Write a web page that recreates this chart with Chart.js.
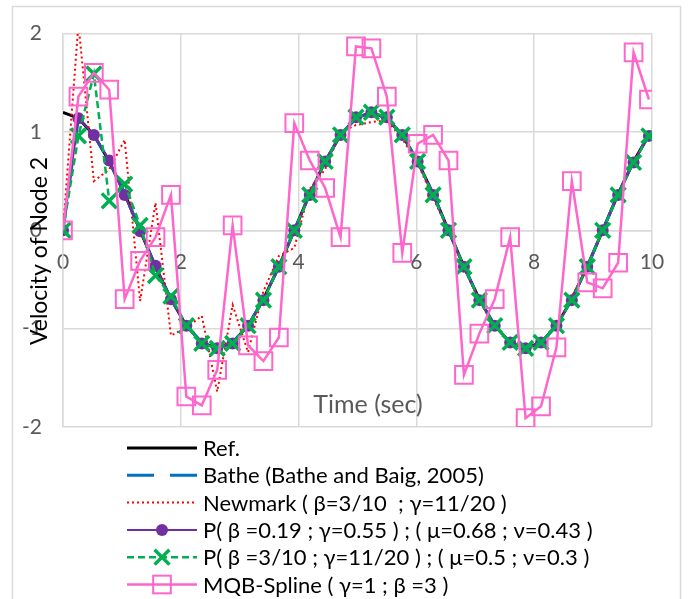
<!DOCTYPE html>
<html>
<head>
<meta charset="utf-8">
<script src="https://cdn.jsdelivr.net/npm/chart.js@4.4.1/dist/chart.umd.min.js"></script>
<style>
    html, body { margin: 0; padding: 0; background: #fff; }
    #wrap { width: 688px; height: 599px; }
</style>
</head>
<body>
<div id="wrap"><canvas id="velChart" width="688" height="599"></canvas></div>
<script>
// time steps (sec)
const times = [0, 0.262, 0.524, 0.785, 1.047, 1.309, 1.571, 1.833, 2.094, 2.356,
    2.618, 2.880, 3.142, 3.403, 3.665, 3.927, 4.189, 4.451, 4.712, 4.974,
    5.236, 5.498, 5.760, 6.021, 6.283, 6.545, 6.807, 7.069, 7.330, 7.592,
    7.854, 8.116, 8.378, 8.639, 8.901, 9.163, 9.425, 9.687, 9.948];

const refVals = [1.2, 1.14, 0.97, 0.70, 0.37, 0, -0.37, -0.70, -0.97, -1.14,
    -1.2, -1.14, -0.97, -0.70, -0.37, 0, 0.37, 0.70, 0.97, 1.14,
    1.2, 1.14, 0.97, 0.70, 0.37, 0, -0.37, -0.70, -0.97, -1.14,
    -1.2, -1.14, -0.97, -0.70, -0.37, 0, 0.37, 0.70, 0.97];

const batheVals = [0, 1.14, 0.97, 0.70, 0.37, 0, -0.37, -0.70, -0.97, -1.14,
    -1.2, -1.14, -0.97, -0.70, -0.37, 0, 0.37, 0.70, 0.97, 1.14,
    1.2, 1.14, 0.97, 0.70, 0.37, 0, -0.37, -0.70, -0.97, -1.14,
    -1.2, -1.14, -0.97, -0.70, -0.37, 0, 0.37, 0.70, 0.97];

const newmarkVals = [0, 2.1, 0.5, 0.62, 0.92, -0.72, 0.28, -1.07, -0.99, -0.87,
    -1.64, -0.76, -1.24, -0.62, -0.26, -0.18, 0.42, 0.62, 1.0, 1.07,
    1.1, 1.12, 0.93, 0.68, 0.33, 0.0, -0.38, -0.72, -0.98, -1.14,
    -1.2, -1.14, -0.97, -0.68, -0.36, 0.0, 0.37, 0.70, 0.97];

const p1Vals = [0, 1.14, 0.97, 0.71, 0.36, -0.01, -0.36, -0.70, -0.97, -1.15,
    -1.2, -1.15, -0.97, -0.71, -0.37, 0, 0.36, 0.70, 0.97, 1.15,
    1.2, 1.15, 0.97, 0.70, 0.36, 0, -0.37, -0.71, -0.97, -1.14,
    -1.2, -1.14, -0.97, -0.71, -0.37, 0, 0.36, 0.69, 0.96];

const p2Vals = [0, 0.96, 1.59, 0.30, 0.47, 0.05, -0.46, -0.67, -0.97, -1.15,
    -1.2, -1.15, -0.97, -0.71, -0.37, 0, 0.36, 0.70, 0.97, 1.15,
    1.2, 1.15, 0.97, 0.70, 0.36, 0, -0.37, -0.71, -0.97, -1.14,
    -1.2, -1.14, -0.97, -0.71, -0.37, 0, 0.36, 0.69, 0.96];

const mqbVals = [0, 1.36, 1.6, 1.43, -0.70, -0.31, -0.07, 0.36, -1.69, -1.78,
    -1.42, 0.05, -1.17, -1.33, -1.09, 1.09, 0.71, 0.43, -0.07, 1.87,
    1.85, 1.36, -0.23, 0.88, 0.97, 0.71, -1.47, -1.05, -0.70, -0.07,
    -1.91, -1.79, -1.19, 0.5, -0.53, -0.59, -0.33, 1.81, 1.33];

const xTicks = [0, 2, 4, 6, 8, 10];
const yTicks = [-2, -1, 0, 1, 2];

const FONT = 'Lato, "Open Sans", sans-serif';
const GRID = '#d9d9d9';

function pts(vals) {
    return vals.map((v, i) => ({ x: times[i], y: v }));
}

const datasets = [
    {
        label: 'Ref.',
        data: pts(refVals),
        borderColor: '#000000',
        borderWidth: 3,
        pointRadius: 0,
        order: 6
    },
    {
        label: 'Bathe (Bathe and Baig, 2005)',
        data: pts(batheVals),
        borderColor: '#0070C0',
        borderWidth: 3,
        borderDash: [27, 16],
        pointRadius: 0,
        order: 5
    },
    {
        label: 'Newmark ( \u03b2=3/10  ; \u03b3=11/20 )',
        data: pts(newmarkVals),
        borderColor: '#FF0000',
        borderWidth: 2,
        borderDash: [2, 3],
        pointRadius: 0,
        order: 4
    },
    {
        label: 'P( \u03b2 =0.19 ; \u03b3=0.55 ) ; ( \u03bc=0.68 ; \u03bd=0.43 )',
        data: pts(p1Vals),
        borderColor: '#7030A0',
        backgroundColor: '#7030A0',
        borderWidth: 2,
        pointStyle: 'circle',
        pointRadius: 6,
        pointBorderWidth: 0,
        order: 3
    },
    {
        label: 'P( \u03b2 =3/10 ; \u03b3=11/20 ) ; ( \u03bc=0.5 ; \u03bd=0.3 )',
        data: pts(p2Vals),
        borderColor: '#00B050',
        backgroundColor: '#00B050',
        borderWidth: 2.5,
        borderDash: [7, 4],
        pointStyle: 'crossRot',
        pointRadius: 10.5,
        pointBorderWidth: 3.5,
        order: 2
    },
    {
        label: 'MQB-Spline ( \u03b3=1 ; \u03b2 =3 )',
        data: pts(mqbVals),
        borderColor: '#FF66CC',
        backgroundColor: 'rgba(255,255,255,0)',
        borderWidth: 2.5,
        pointStyle: 'rect',
        pointRadius: 12.5,
        pointBorderWidth: 2,
        order: 1
    }
];

// frame, axis titles and the one-per-row legend
const decorPlugin = {
    id: 'decor',
    beforeDraw(chart) {
        const c = chart.ctx;
        c.save();
        c.fillStyle = '#fff';
        c.fillRect(0, 0, chart.width, chart.height);
        c.strokeStyle = GRID;
        c.lineWidth = 1.5;
        c.strokeRect(12.5, 6.5, 668, 620);
        c.restore();
    },
    afterDraw(chart) {
        const c = chart.ctx;
        c.save();
        c.textBaseline = 'middle';

        c.font = '25px ' + FONT;
        c.fillStyle = '#595959';
        c.textAlign = 'center';
        c.fillText('Time (sec)', 368, 405);

        c.font = '23px ' + FONT;
        c.fillStyle = '#000';
        c.translate(40, 251);
        c.rotate(-Math.PI / 2);
        c.fillText('Velocity of Node 2', 0, 0);
        c.setTransform(1, 0, 0, 1, 0, 0);

        c.font = '22px ' + FONT;
        chart.data.datasets.forEach((ds, i) => {
            const y = 448 + i * 27.3;
            c.save();
            c.strokeStyle = ds.borderColor;
            c.lineWidth = ds.borderWidth;
            c.setLineDash(ds.borderDash || []);
            c.beginPath();
            c.moveTo(127, y);
            c.lineTo(197, y);
            c.stroke();
            c.setLineDash([]);
            const mx = 162;
            if (ds.pointStyle === 'circle' && ds.pointRadius) {
                c.fillStyle = ds.backgroundColor;
                c.beginPath();
                c.arc(mx, y, ds.pointRadius, 0, Math.PI * 2);
                c.fill();
            } else if (ds.pointStyle === 'crossRot') {
                const r = ds.pointRadius * Math.SQRT1_2;
                c.lineWidth = ds.pointBorderWidth;
                c.beginPath();
                c.moveTo(mx - r, y - r); c.lineTo(mx + r, y + r);
                c.moveTo(mx - r, y + r); c.lineTo(mx + r, y - r);
                c.stroke();
            } else if (ds.pointStyle === 'rect') {
                const s = ds.pointRadius * Math.SQRT1_2;
                c.lineWidth = ds.pointBorderWidth;
                c.strokeRect(mx - s, y - s, s * 2, s * 2);
            }
            c.restore();
            c.fillStyle = '#000';
            c.textAlign = 'left';
            c.fillText(ds.label, 203, y + 1);
        });
        c.restore();
    }
};

const ctx = document.getElementById('velChart').getContext('2d');

new Chart(ctx, {
    type: 'line',
    data: { datasets: datasets },
    options: {
        responsive: false,
        animation: false,
        layout: {
            padding: { left: 0, top: 29, right: 36, bottom: 172 }
        },
        elements: {
            line: { tension: 0, fill: false }
        },
        plugins: {
            legend: { display: false },
            tooltip: { enabled: false }
        },
        scales: {
            x: {
                type: 'linear',
                position: { y: 0 },
                min: 0,
                max: 10,
                afterBuildTicks: (scale) => { scale.ticks = xTicks.map(v => ({ value: v })); },
                grid: { color: GRID, lineWidth: 1.5, drawTicks: false },
                border: { color: GRID, width: 1.5 },
                ticks: {
                    padding: 19,
                    color: '#595959',
                    font: { family: FONT, size: 21 },
                    maxRotation: 0
                }
            },
            y: {
                type: 'linear',
                min: -2,
                max: 2,
                afterBuildTicks: (scale) => { scale.ticks = yTicks.map(v => ({ value: v })); },
                afterFit: (scale) => { scale.width = 63; },
                grid: { color: GRID, lineWidth: 1.5, drawTicks: false },
                border: { color: GRID, width: 1.5 },
                ticks: {
                    padding: 21,
                    color: '#595959',
                    font: { family: FONT, size: 21 }
                }
            }
        }
    },
    plugins: [decorPlugin]
});
</script>
</body>
</html>
